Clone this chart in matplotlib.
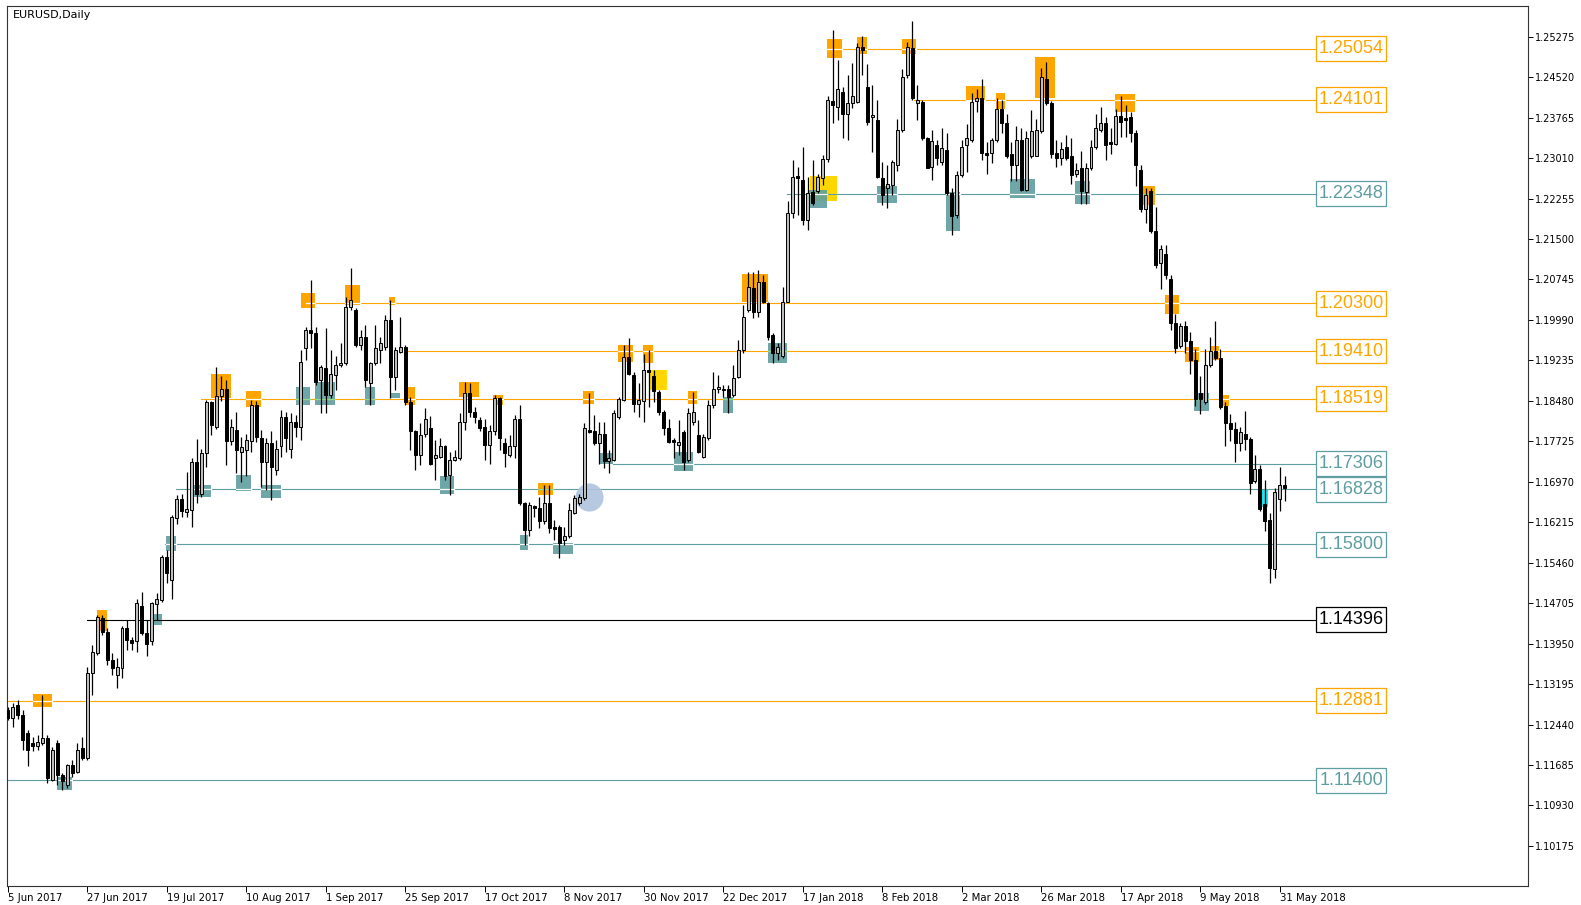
import matplotlib
matplotlib.use("Agg")
import matplotlib.pyplot as plt
from matplotlib.patches import Rectangle
from matplotlib.collections import LineCollection

# daily EURUSD bars, 5 Jun 2017 .. 1 Jun 2018 (bar index = position on the chart)
opens = [1.1271, 1.1256, 1.1280, 1.1262, 1.1228, 1.1209, 1.1204, 1.1209, 1.1218, 1.1141,
         1.1209, 1.1150, 1.1131, 1.1168, 1.1156, 1.1200, 1.1181, 1.1340, 1.1377, 1.1442,
         1.1417, 1.1364, 1.1336, 1.1349, 1.1424, 1.1402, 1.1399, 1.1465, 1.1414, 1.1399,
         1.1468, 1.1476, 1.1557, 1.1514, 1.1629, 1.1664, 1.1641, 1.1644, 1.1734, 1.1675,
         1.1750, 1.1845, 1.1800, 1.1857, 1.1870, 1.1774, 1.1794, 1.1753, 1.1756, 1.1774,
         1.1840, 1.1778, 1.1734, 1.1769, 1.1719, 1.1763, 1.1818, 1.1759, 1.1809, 1.1800,
         1.1946, 1.1980, 1.1974, 1.1887, 1.1909, 1.1859, 1.1896, 1.1915, 1.1918, 1.2024,
         1.2018, 1.1952, 1.1968, 1.1881, 1.1918, 1.1943, 1.1949, 1.1999, 1.1893, 1.1940,
         1.1949, 1.1846, 1.1791, 1.1747, 1.1787, 1.1797, 1.1741, 1.1744, 1.1763, 1.1710,
         1.1738, 1.1741, 1.1809, 1.1862, 1.1828, 1.1812, 1.1800, 1.1766, 1.1791, 1.1853,
         1.1769, 1.1747, 1.1763, 1.1815, 1.1657, 1.1607, 1.1651, 1.1648, 1.1623, 1.1657,
         1.1612, 1.1613, 1.1588, 1.1596, 1.1638, 1.1657, 1.1666, 1.1794, 1.1791, 1.1769,
         1.1787, 1.1735, 1.1738, 1.1818, 1.1850, 1.1930, 1.1896, 1.1842, 1.1847, 1.1906,
         1.1895, 1.1865, 1.1828, 1.1797, 1.1775, 1.1766, 1.1790, 1.1738, 1.1809, 1.1785,
         1.1744, 1.1778, 1.1840, 1.1871, 1.1868, 1.1870, 1.1859, 1.1893, 1.1943, 1.2018,
         1.2058, 1.2014, 1.2070, 1.2030, 1.1971, 1.1937, 1.1931, 1.2033, 1.2198, 1.2268,
         1.2260, 1.2185, 1.2238, 1.2240, 1.2263, 1.2300, 1.2408, 1.2397, 1.2425, 1.2384,
         1.2403, 1.2406, 1.2509, 1.2434, 1.2378, 1.2372, 1.2264, 1.2246, 1.2251, 1.2288,
         1.2353, 1.2456, 1.2506, 1.2403, 1.2406, 1.2338, 1.2285, 1.2325, 1.2294, 1.2316,
         1.2235, 1.2195, 1.2269, 1.2325, 1.2334, 1.2408, 1.2413, 1.2311, 1.2311, 1.2334,
         1.2393, 1.2367, 1.2308, 1.2288, 1.2334, 1.2242, 1.2305, 1.2305, 1.2351, 1.2449,
         1.2403, 1.2310, 1.2302, 1.2321, 1.2305, 1.2272, 1.2282, 1.2238, 1.2282, 1.2321,
         1.2354, 1.2367, 1.2331, 1.2328, 1.2380, 1.2375, 1.2377, 1.2347, 1.2279, 1.2206,
         1.2239, 1.2164, 1.2105, 1.2122, 1.2075, 1.1993, 1.1950, 1.1987, 1.1960, 1.1924,
         1.1862, 1.1846, 1.1914, 1.1941, 1.1928, 1.1839, 1.1806, 1.1796, 1.1770, 1.1787,
         1.1777, 1.1698, 1.1721, 1.1655, 1.1626, 1.1534, 1.1665, 1.1691]
highs = [1.1277, 1.1284, 1.1290, 1.1271, 1.1234, 1.1221, 1.1224, 1.1299, 1.1224, 1.1203,
         1.1215, 1.1153, 1.1171, 1.1178, 1.1209, 1.1221, 1.1352, 1.1392, 1.1448, 1.1448,
         1.1424, 1.1377, 1.1368, 1.1427, 1.1439, 1.1408, 1.1479, 1.1492, 1.1439, 1.1473,
         1.1490, 1.1560, 1.1570, 1.1635, 1.1672, 1.1675, 1.1716, 1.1741, 1.1776, 1.1759,
         1.1850, 1.1848, 1.1912, 1.1894, 1.1887, 1.1815, 1.1828, 1.1781, 1.1787, 1.1850,
         1.1847, 1.1794, 1.1778, 1.1791, 1.1775, 1.1831, 1.1828, 1.1825, 1.1822, 1.1943,
         1.1986, 1.2074, 1.1986, 1.1915, 1.1983, 1.1943, 1.1931, 1.1955, 1.2042, 1.2095,
         1.2021, 1.1980, 1.1990, 1.1921, 1.1990, 1.1968, 1.2008, 1.2036, 1.1949, 1.2005,
         1.1952, 1.1856, 1.1794, 1.1806, 1.1834, 1.1819, 1.1775, 1.1778, 1.1766, 1.1753,
         1.1756, 1.1826, 1.1884, 1.1882, 1.1837, 1.1818, 1.1815, 1.1803, 1.1859, 1.1856,
         1.1778, 1.1784, 1.1822, 1.1840, 1.1660, 1.1660, 1.1654, 1.1669, 1.1691, 1.1691,
         1.1626, 1.1616, 1.1613, 1.1657, 1.1672, 1.1675, 1.1806, 1.1862, 1.1822, 1.1809,
         1.1809, 1.1757, 1.1831, 1.1856, 1.1952, 1.1965, 1.1902, 1.1881, 1.1935, 1.1943,
         1.1905, 1.1868, 1.1831, 1.1815, 1.1778, 1.1812, 1.1793, 1.1834, 1.1865, 1.1812,
         1.1787, 1.1850, 1.1902, 1.1896, 1.1877, 1.1877, 1.1915, 1.1962, 1.2027, 1.2089,
         1.2089, 1.2092, 1.2083, 1.2033, 1.1974, 1.1955, 1.2061, 1.2220, 1.2297, 1.2285,
         1.2322, 1.2266, 1.2297, 1.2272, 1.2307, 1.2416, 1.2540, 1.2484, 1.2434, 1.2456,
         1.2478, 1.2515, 1.2528, 1.2476, 1.2437, 1.2409, 1.2294, 1.2288, 1.2297, 1.2374,
         1.2467, 1.2517, 1.2557, 1.2437, 1.2409, 1.2341, 1.2353, 1.2335, 1.2357, 1.2347,
         1.2245, 1.2276, 1.2335, 1.2364, 1.2423, 1.2429, 1.2449, 1.2331, 1.2338, 1.2413,
         1.2410, 1.2384, 1.2331, 1.2360, 1.2357, 1.2351, 1.2390, 1.2374, 1.2469, 1.2481,
         1.2407, 1.2334, 1.2331, 1.2344, 1.2338, 1.2292, 1.2315, 1.2292, 1.2334, 1.2384,
         1.2397, 1.2377, 1.2357, 1.2393, 1.2416, 1.2400, 1.2387, 1.2354, 1.2288, 1.2246,
         1.2246, 1.2210, 1.2138, 1.2138, 1.2082, 1.2010, 1.1993, 1.1997, 1.1977, 1.1944,
         1.1895, 1.1944, 1.1967, 1.1997, 1.1944, 1.1846, 1.1823, 1.1809, 1.1800, 1.1829,
         1.1780, 1.1747, 1.1728, 1.1700, 1.1639, 1.1685, 1.1724, 1.1708]
lows = [1.1252, 1.1240, 1.1255, 1.1197, 1.1166, 1.1194, 1.1197, 1.1206, 1.1134, 1.1138,
        1.1131, 1.1122, 1.1125, 1.1147, 1.1153, 1.1178, 1.1178, 1.1300, 1.1374, 1.1411,
        1.1355, 1.1336, 1.1312, 1.1330, 1.1383, 1.1383, 1.1380, 1.1411, 1.1371, 1.1392,
        1.1439, 1.1473, 1.1508, 1.1479, 1.1619, 1.1632, 1.1632, 1.1613, 1.1657, 1.1669,
        1.1725, 1.1784, 1.1795, 1.1847, 1.1728, 1.1766, 1.1713, 1.1697, 1.1707, 1.1753,
        1.1772, 1.1688, 1.1682, 1.1663, 1.1710, 1.1744, 1.1753, 1.1741, 1.1781, 1.1775,
        1.1924, 1.1946, 1.1878, 1.1825, 1.1825, 1.1853, 1.1868, 1.1912, 1.1915, 1.2018,
        1.1949, 1.1943, 1.1874, 1.1840, 1.1915, 1.1918, 1.1943, 1.1853, 1.1868, 1.1937,
        1.1840, 1.1756, 1.1719, 1.1728, 1.1781, 1.1728, 1.1700, 1.1741, 1.1700, 1.1672,
        1.1735, 1.1738, 1.1793, 1.1818, 1.1806, 1.1791, 1.1738, 1.1731, 1.1784, 1.1756,
        1.1725, 1.1744, 1.1741, 1.1654, 1.1579, 1.1595, 1.1632, 1.1610, 1.1619, 1.1601,
        1.1588, 1.1554, 1.1579, 1.1592, 1.1637, 1.1654, 1.1663, 1.1788, 1.1766, 1.1731,
        1.1722, 1.1713, 1.1735, 1.1815, 1.1847, 1.1896, 1.1828, 1.1818, 1.1809, 1.1837,
        1.1845, 1.1822, 1.1784, 1.1769, 1.1741, 1.1747, 1.1719, 1.1734, 1.1803, 1.1750,
        1.1741, 1.1775, 1.1834, 1.1862, 1.1856, 1.1825, 1.1856, 1.1890, 1.1937, 1.2014,
        1.2002, 1.2005, 1.2030, 1.1962, 1.1918, 1.1924, 1.1928, 1.2032, 1.2189, 1.2195,
        1.2176, 1.2167, 1.2213, 1.2235, 1.2251, 1.2294, 1.2366, 1.2372, 1.2338, 1.2335,
        1.2394, 1.2403, 1.2456, 1.2363, 1.2313, 1.2263, 1.2213, 1.2207, 1.2232, 1.2276,
        1.2350, 1.2450, 1.2409, 1.2372, 1.2335, 1.2282, 1.2260, 1.2288, 1.2288, 1.2232,
        1.2157, 1.2189, 1.2266, 1.2275, 1.2331, 1.2387, 1.2298, 1.2272, 1.2292, 1.2331,
        1.2347, 1.2302, 1.2259, 1.2259, 1.2239, 1.2239, 1.2302, 1.2305, 1.2347, 1.2400,
        1.2301, 1.2285, 1.2288, 1.2298, 1.2252, 1.2265, 1.2216, 1.2216, 1.2279, 1.2318,
        1.2349, 1.2298, 1.2308, 1.2325, 1.2341, 1.2341, 1.2331, 1.2249, 1.2200, 1.2180,
        1.2161, 1.2095, 1.2056, 1.2075, 1.1980, 1.1937, 1.1947, 1.1937, 1.1898, 1.1839,
        1.1823, 1.1842, 1.1911, 1.1924, 1.1833, 1.1764, 1.1773, 1.1734, 1.1754, 1.1757,
        1.1675, 1.1695, 1.1642, 1.1606, 1.1508, 1.1517, 1.1642, 1.1662]
closes = [1.1256, 1.1277, 1.1262, 1.1215, 1.1197, 1.1204, 1.1212, 1.1218, 1.1144, 1.1197,
          1.1150, 1.1138, 1.1168, 1.1153, 1.1197, 1.1181, 1.1340, 1.1380, 1.1445, 1.1417,
          1.1364, 1.1349, 1.1352, 1.1424, 1.1402, 1.1397, 1.1470, 1.1414, 1.1395, 1.1470,
          1.1479, 1.1557, 1.1526, 1.1632, 1.1664, 1.1643, 1.1647, 1.1734, 1.1675, 1.1750,
          1.1845, 1.1803, 1.1857, 1.1871, 1.1774, 1.1800, 1.1756, 1.1761, 1.1775, 1.1840,
          1.1781, 1.1734, 1.1769, 1.1725, 1.1759, 1.1818, 1.1778, 1.1809, 1.1800, 1.1921,
          1.1980, 1.1974, 1.1884, 1.1912, 1.1859, 1.1899, 1.1915, 1.1918, 1.2024, 1.2036,
          1.1952, 1.1968, 1.1887, 1.1918, 1.1946, 1.1955, 1.1999, 1.1893, 1.1943, 1.1949,
          1.1846, 1.1791, 1.1747, 1.1784, 1.1815, 1.1731, 1.1747, 1.1763, 1.1707, 1.1738,
          1.1744, 1.1809, 1.1862, 1.1828, 1.1818, 1.1797, 1.1766, 1.1791, 1.1853, 1.1778,
          1.1750, 1.1763, 1.1815, 1.1657, 1.1607, 1.1654, 1.1648, 1.1623, 1.1657, 1.1610,
          1.1608, 1.1582, 1.1596, 1.1644, 1.1666, 1.1669, 1.1797, 1.1790, 1.1769, 1.1787,
          1.1735, 1.1741, 1.1825, 1.1851, 1.1930, 1.1899, 1.1843, 1.1850, 1.1906, 1.1901,
          1.1866, 1.1828, 1.1797, 1.1772, 1.1772, 1.1771, 1.1734, 1.1825, 1.1828, 1.1753,
          1.1781, 1.1840, 1.1871, 1.1874, 1.1871, 1.1856, 1.1890, 1.1943, 1.2005, 1.2061,
          1.2014, 1.2070, 1.2033, 1.1968, 1.1937, 1.1949, 1.2033, 1.2198, 1.2266, 1.2263,
          1.2185, 1.2235, 1.2217, 1.2265, 1.2300, 1.2409, 1.2400, 1.2430, 1.2384, 1.2403,
          1.2416, 1.2509, 1.2503, 1.2369, 1.2382, 1.2266, 1.2232, 1.2252, 1.2294, 1.2353,
          1.2453, 1.2509, 1.2413, 1.2409, 1.2338, 1.2283, 1.2332, 1.2301, 1.2319, 1.2235,
          1.2192, 1.2269, 1.2322, 1.2338, 1.2406, 1.2413, 1.2311, 1.2306, 1.2334, 1.2393,
          1.2367, 1.2305, 1.2288, 1.2334, 1.2242, 1.2339, 1.2351, 1.2354, 1.2452, 1.2403,
          1.2308, 1.2302, 1.2318, 1.2302, 1.2269, 1.2278, 1.2239, 1.2282, 1.2321, 1.2357,
          1.2367, 1.2325, 1.2327, 1.2380, 1.2369, 1.2372, 1.2347, 1.2288, 1.2206, 1.2233,
          1.2164, 1.2101, 1.2131, 1.2082, 1.1993, 1.1947, 1.1987, 1.1960, 1.1924, 1.1852,
          1.1851, 1.1914, 1.1941, 1.1928, 1.1836, 1.1806, 1.1796, 1.1770, 1.1790, 1.1777,
          1.1695, 1.1720, 1.1646, 1.1623, 1.1537, 1.1678, 1.1691, 1.1685]

date_labels = ["5 Jun 2017", "27 Jun 2017", "19 Jul 2017", "10 Aug 2017", "1 Sep 2017",
               "25 Sep 2017", "17 Oct 2017", "8 Nov 2017", "30 Nov 2017", "22 Dec 2017",
               "17 Jan 2018", "8 Feb 2018", "2 Mar 2018", "26 Mar 2018", "17 Apr 2018",
               "9 May 2018", "31 May 2018"]
date_bars = [0, 16, 32, 48, 64, 80, 96, 112, 128, 144, 160, 176, 192, 208, 224, 240, 256]

price_ticks = [1.25275, 1.24520, 1.23765, 1.23010, 1.22255, 1.21500, 1.20745,
               1.19990, 1.19235, 1.18480, 1.17725, 1.16970, 1.16215, 1.15460,
               1.14705, 1.13950, 1.13195, 1.12440, 1.11685, 1.10930, 1.10175]

# support / resistance levels: price, kind (o=resistance, t=support, k=current), first bar
levels = [1.25054, 1.24101, 1.22348, 1.20300, 1.19410, 1.18519,
          1.17306, 1.16828, 1.15800, 1.14396, 1.12881, 1.11400]
level_kind = ['o', 'o', 't', 'o', 'o', 'o', 't', 't', 't', 'k', 'o', 't']
level_from = [164.8, 182.3, 156.8, 60.0, 80.4, 39.0, 121.9, 33.9, 31.7, 16.0, -1, -1]

# swing zones: first bar, last bar, low, high, kind
zones = [
    (5.0, 9.0, 1.1277, 1.1301, 'o'), (10.0, 12.9, 1.1122, 1.1147, 't'),
    (17.9, 19.9, 1.1418, 1.1458, 'o'), (29.3, 31.0, 1.1430, 1.1451, 't'),
    (31.9, 33.9, 1.1567, 1.1596, 't'), (37.4, 40.9, 1.1668, 1.1691, 't'),
    (40.9, 44.9, 1.1853, 1.1899, 'o'), (45.9, 48.9, 1.1679, 1.1710, 't'),
    (47.9, 50.9, 1.1837, 1.1867, 'o'), (50.9, 54.9, 1.1667, 1.1691, 't'),
    (58.0, 60.8, 1.1840, 1.1874, 't'), (59.0, 61.8, 1.2021, 1.2050, 'o'),
    (61.8, 65.9, 1.1840, 1.1884, 't'), (67.9, 70.9, 1.2027, 1.2064, 'o'),
    (71.9, 73.9, 1.1840, 1.1874, 't'), (76.8, 77.9, 1.2027, 1.2041, 'o'),
    (76.9, 78.9, 1.1853, 1.1862, 't'), (80.2, 82.0, 1.1840, 1.1874, 'o'),
    (86.9, 89.8, 1.1674, 1.1708, 't'), (90.9, 94.9, 1.1856, 1.1884, 'o'),
    (97.7, 99.7, 1.1840, 1.1859, 'o'), (103.0, 104.8, 1.1570, 1.1598, 't'),
    (106.8, 109.8, 1.1672, 1.1694, 'o'), (109.8, 113.8, 1.1562, 1.1582, 't'),
    (115.8, 117.9, 1.1842, 1.1867, 'o'), (118.9, 121.9, 1.1731, 1.1751, 't'),
    (122.8, 125.9, 1.1921, 1.1952, 'o'), (127.9, 129.8, 1.1918, 1.1952, 'o'),
    (129.3, 132.7, 1.1868, 1.1906, 'y'), (134.0, 137.9, 1.1717, 1.1752, 't'),
    (137.0, 138.8, 1.1843, 1.1866, 'o'), (143.9, 145.9, 1.1825, 1.1856, 't'),
    (147.7, 152.9, 1.2033, 1.2084, 'o'), (152.9, 156.8, 1.1918, 1.1955, 't'),
    (161.5, 166.8, 1.2220, 1.2268, 'y'), (161.1, 164.8, 1.2207, 1.2241, 't'),
    (164.8, 167.8, 1.2487, 1.2523, 'o'), (170.9, 172.9, 1.2496, 1.2526, 'o'),
    (174.9, 178.9, 1.2217, 1.2248, 't'), (179.9, 182.8, 1.2495, 1.2524, 'o'),
    (188.8, 191.6, 1.2165, 1.2238, 't'), (192.9, 196.7, 1.2410, 1.2436, 'o'),
    (198.9, 200.7, 1.2393, 1.2423, 'o'), (201.7, 206.7, 1.2226, 1.2262, 't'),
    (206.7, 210.8, 1.2413, 1.2490, 'o'), (214.8, 217.8, 1.2216, 1.2259, 't'),
    (222.8, 226.9, 1.2387, 1.2421, 'o'), (227.9, 230.8, 1.2213, 1.2249, 'o'),
    (232.8, 235.8, 1.2010, 1.2046, 'o'), (237.0, 239.8, 1.1921, 1.1949, 'o'),
    (238.8, 241.8, 1.1829, 1.1862, 't'), (242.0, 243.8, 1.1924, 1.1950, 'o'),
    (244.2, 245.8, 1.1839, 1.1859, 'o'), (252.4, 253.7, 1.1649, 1.1683, 'c'),
]

circle_bar, circle_price = 117, 1.1669

COL = {'o': '#FFA500', 't': '#5F9EA0', 'k': '#000000', 'y': '#FFD700', 'c': '#1EE3F0'}

W, H = 1581, 905
fig = plt.figure(figsize=(W / 100, H / 100), dpi=100)
ax = fig.add_axes([7.3 / W, 1 - 885.7 / H, 1521 / W, 880 / H])
ax.set_xlim(-0.08, 306.0)
ax.set_ylim(1.09433, 1.25853)

# zones
for x0, x1, lo, hi, k in zones:
    ax.add_patch(Rectangle((x0, lo), x1 - x0, hi - lo, facecolor=COL[k],
                           edgecolor='none', alpha=0.9 if k == 't' else 1.0, zorder=1))

# level lines + price boxes
box_x0, box_x1 = 263.3, 277.4
box_h = 0.00466
for lv, k, start in zip(levels, level_kind, level_from):
    ax.plot([start, box_x0], [lv, lv], color=COL[k], lw=0.8, zorder=2)
    # where a level crosses a zone the line shows lighter
    for x0, x1, lo, hi, zk in zones:
        if k != 'k' and lo < lv < hi and x1 > start and zk in 'ot':
            c = 'white' if zk == k else '#8EDB8E'
            ax.plot([max(x0, start), x1], [lv, lv], color=c, lw=0.9, zorder=2.2)
    ax.add_patch(Rectangle((box_x0, lv - box_h / 2), box_x1 - box_x0, box_h,
                           facecolor='white', edgecolor=COL[k], lw=0.9, zorder=4))
    ax.text((box_x0 + box_x1) / 2, lv, f"{lv:.5f}", color=COL[k], fontsize=13,
            family=['Liberation Sans', 'DejaVu Sans'], ha='center', va='center', zorder=5)

ax.scatter([circle_bar], [circle_price], s=410, color='#B0C4DE', alpha=0.9,
           linewidths=0, zorder=2.5)

# candles
bw = 0.6
wicks = [[(i, lows[i]), (i, highs[i])] for i in range(len(opens))]
ax.add_collection(LineCollection(wicks, colors='black', linewidths=0.9, zorder=3))
for i, (o, c) in enumerate(zip(opens, closes)):
    bottom = min(o, c)
    h = max(abs(c - o), 0.00012)
    fc = '#BDBDBD' if c >= o else 'black'
    ax.add_patch(Rectangle((i - bw / 2, bottom), bw, h, facecolor=fc,
                           edgecolor='black', lw=0.7, zorder=3.5))

# axes styling
for s in ax.spines.values():
    s.set_color('#333333')
    s.set_linewidth(0.8)
ax.yaxis.tick_right()
ax.set_yticks(price_ticks)
ax.set_yticklabels([f"{p:.5f}" for p in price_ticks])
ax.tick_params(axis='y', length=3.6, width=0.7, pad=1, labelsize=7, colors='black')
ax.set_xticks(date_bars)
ax.set_xticklabels(date_labels)
for lbl in ax.get_xticklabels():
    lbl.set_horizontalalignment('left')
ax.tick_params(axis='x', length=4, width=0.7, pad=1, labelsize=7.3)

fig.text(12.7 / W, 1 - 15.5 / H, "EURUSD,Daily", fontsize=8, va='center', ha='left')

fig.savefig("out.png", dpi=100)
